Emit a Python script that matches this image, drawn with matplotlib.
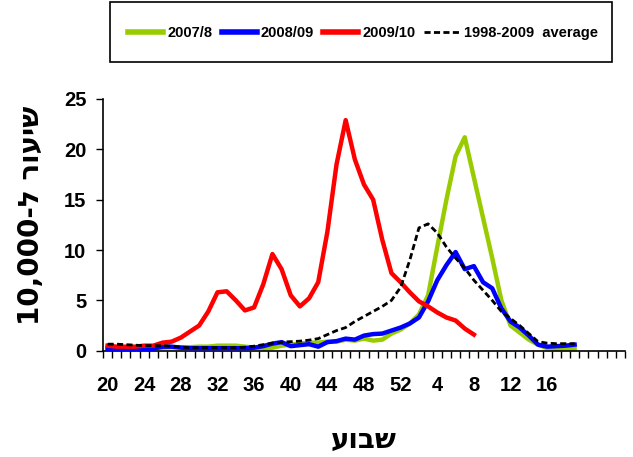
import matplotlib
matplotlib.use("Agg")
import matplotlib.pyplot as plt
from matplotlib.patches import Rectangle
import numpy as np

# weeks on the category axis: 20..52 then 1..24
weeks = list(range(20, 53)) + list(range(1, 25))
tick_weeks = [20, 24, 28, 32, 36, 40, 44, 48, 52, 4, 8, 12, 16]

# 2007/8 season (weeks 20 .. 19)
s2007 = [0.3, 0.3, 0.3, 0.3, 0.3, 0.3, 0.3, 0.35, 0.35, 0.35, 0.4, 0.4,
         0.5, 0.5, 0.5, 0.4, 0.3, 0.2, 0.3, 0.5, 0.6, 0.7, 0.8, 0.8,
         0.9, 0.9, 1.1, 1.0, 1.2, 1.0, 1.1, 1.7, 2.1, 2.7, 3.6, 5.5,
         10.3, 15.0, 19.3, 21.2, 17.2, 13.2, 9.2, 5.0, 2.5, 1.8, 1.1, 0.6,
         0.25, 0.2, 0.2, 0.2]
# 2008/09 season (weeks 20 .. 19)
s2008 = [0.2, 0.15, 0.1, 0.1, 0.1, 0.2, 0.4, 0.4, 0.3, 0.25, 0.25, 0.25,
         0.25, 0.25, 0.25, 0.25, 0.3, 0.45, 0.7, 0.85, 0.45, 0.55, 0.65, 0.4,
         0.85, 0.95, 1.2, 1.1, 1.5, 1.65, 1.7, 2.0, 2.3, 2.7, 3.3, 4.9,
         7.0, 8.5, 9.8, 8.1, 8.4, 6.8, 6.2, 4.2, 2.9, 2.3, 1.5, 0.6,
         0.4, 0.45, 0.5, 0.6]
# 2009/10 season (weeks 20 .. 8)
s2009 = [0.5, 0.4, 0.4, 0.4, 0.5, 0.5, 0.8, 0.9, 1.3, 1.9, 2.5, 3.9,
         5.8, 5.9, 5.0, 4.0, 4.3, 6.6, 9.6, 8.1, 5.5, 4.4, 5.2, 6.8,
         11.8, 18.5, 22.9, 19.0, 16.5, 15.0, 11.0, 7.7, 6.8, 5.8, 4.9, 4.4,
         3.8, 3.3, 3.0, 2.2, 1.6]
# 1998-2009 average (weeks 20 .. 19)
avg = [0.65, 0.65, 0.6, 0.55, 0.5, 0.5, 0.5, 0.45, 0.35, 0.3, 0.3, 0.3,
       0.3, 0.3, 0.3, 0.35, 0.45, 0.6, 0.75, 0.85, 0.9, 0.95, 1.05, 1.2,
       1.6, 2.0, 2.3, 2.9, 3.4, 3.9, 4.4, 5.0, 6.3, 9.0, 12.2, 12.6,
       11.7, 10.3, 9.2, 8.2, 7.0, 6.0, 5.0, 3.9, 3.2, 2.5, 1.7, 0.9,
       0.75, 0.7, 0.7, 0.7]

font = ['Liberation Sans', 'DejaVu Sans']

fig = plt.figure(figsize=(6.33, 4.57), dpi=100)
ax = fig.add_axes([103 / 633, 1 - 350.7 / 457, 522 / 633, 251.7 / 457])

ax.plot(np.arange(len(s2007)), s2007, color='#99CC00', lw=3.2, label='2007/8', zorder=2)
ax.plot(np.arange(len(s2008)), s2008, color='#0000FF', lw=3.2, label='2008/09', zorder=3)
ax.plot(np.arange(len(s2009)), s2009, color='#FF0000', lw=3.2, label='2009/10', zorder=4)
ax.plot(np.arange(len(avg)), avg, color='black', lw=2, dashes=(2.2, 1.2),
        label='1998-2009  average', zorder=5)

ax.set_xlim(-0.5, len(weeks) - 0.5)
ax.set_ylim(0, 25)
ax.set_yticks(range(0, 26, 5))

tick_pos = [weeks.index(w) for w in tick_weeks]
ax.set_xticks(tick_pos)
ax.set_xticklabels([str(w) for w in tick_weeks])
ax.set_xticks(np.arange(-0.5, len(weeks)), minor=True)
ax.tick_params(axis='x', which='major', length=0, pad=18)
ax.tick_params(axis='x', which='minor', length=5, width=1, direction='out')
ax.tick_params(axis='y', length=5, width=1, direction='out', pad=7)

for lab in ax.get_xticklabels() + ax.get_yticklabels():
    lab.set_family(font)
    lab.set_fontweight('bold')
    lab.set_fontsize(14.5)

for side in ['top', 'right']:
    ax.spines[side].set_visible(False)
for side in ['left', 'bottom']:
    ax.spines[side].set_linewidth(1.2)

# Hebrew text written in visual order (matplotlib has no bidi)
fig.text(31 / 633, 1 - 215 / 457, '10,000-ל רועיש', rotation=90, ha='center', va='center',
         fontsize=20, fontweight='bold', family=['DejaVu Sans'])
fig.text(364 / 633, 1 - 440 / 457, 'עובש', ha='center', va='center',
         fontsize=20, fontweight='bold', family=['DejaVu Sans'])

# legend box
fig.patches.append(Rectangle((110 / 633, 1 - 62 / 457), 502 / 633, 60 / 457,
                             transform=fig.transFigure, facecolor='white',
                             edgecolor='black', lw=1.2, zorder=0))
leg = fig.legend(loc='center', bbox_to_anchor=(363 / 633, 1 - 33 / 457),
                 ncol=4, frameon=False, handlelength=2.4, handletextpad=0.3,
                 columnspacing=0.6,
                 prop={'family': font, 'weight': 'bold', 'size': 10.5})
for h in leg.legend_handles[:3]:
    h.set_linewidth(4)

fig.savefig('out.png', dpi=100)
